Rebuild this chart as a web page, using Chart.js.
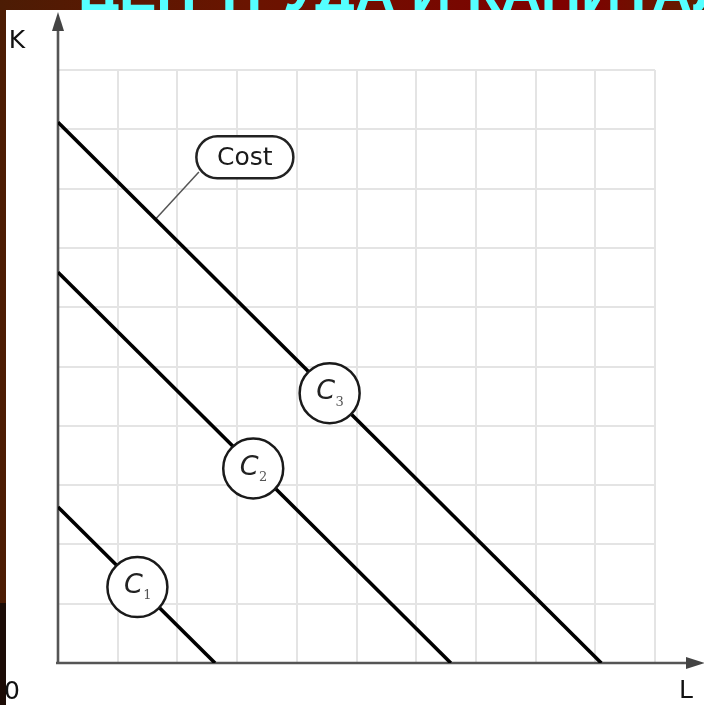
<!DOCTYPE html>
<html>
<head>
<meta charset="utf-8">
<script src="https://cdn.jsdelivr.net/npm/chart.js@4.4.1/dist/chart.umd.min.js"></script>
<style>
html,body{margin:0;padding:0;background:#5a1e04;}
#wrap{position:relative;width:704px;height:705px;}
canvas{display:block;}
</style>
</head>
<body>
<div id="wrap"><canvas id="c" width="704" height="705"></canvas></div>
<script>
// ---- data ----
const categories = ['C1', 'C2', 'C3'];
const subscripts = ['1', '2', '3'];
const kIntercepts = [2.63, 6.59, 9.12];   // value of K where each isocost meets the K axis
const lIntercepts = [2.63, 6.58, 9.10];   // value of L where each isocost meets the L axis
const labelL = [1.33, 3.27, 4.55];        // label circle positions on each line
const labelK = [1.28, 3.28, 4.55];
const costLabel = { text: 'Cost', l: 3.13, k: 8.53 };
const costLeader = [{ x: 2.36, y: 8.28 }, { x: 1.64, y: 7.49 }];
const xTicks = [0,1,2,3,4,5,6,7,8,9,10];
const yTicks = [0,1,2,3,4,5,6,7,8,9,10];
const titleText = 'ЦЕН ТРУДА И КАПИТАЛА';
const axisLabels = { y: 'K', x: 'L', origin: '0' };

const lineDatasets = categories.map((c, i) => ({
  label: c,
  data: [{ x: 0, y: kIntercepts[i] }, { x: lIntercepts[i], y: 0 }],
  showLine: true,
  borderColor: '#000',
  borderWidth: 3.6,
  pointRadius: 0,
  pointHoverRadius: 0,
  fill: false
}));

const circleDataset = {
  label: 'labels',
  data: categories.map((c, i) => ({ x: labelL[i], y: labelK[i] })),
  showLine: false,
  pointRadius: 30,
  pointHoverRadius: 30,
  pointBackgroundColor: '#fff',
  pointBorderColor: '#1a1a1a',
  pointBorderWidth: 2.5
};

const backgroundPlugin = {
  id: 'bg',
  beforeDraw(chart) {
    const ctx = chart.ctx, W = chart.width, H = chart.height;
    ctx.save();
    const g = ctx.createLinearGradient(0, 0, W, 0);
    g.addColorStop(0, '#4c1c04');
    g.addColorStop(0.35, '#6a1400');
    g.addColorStop(0.82, '#800000');
    g.addColorStop(1, '#5e2000');
    ctx.fillStyle = g;
    ctx.fillRect(0, 0, W, H);
    ctx.fillStyle = '#1c0c06';
    ctx.fillRect(0, 603, 8, H - 603);
    // cyan title, mostly hidden behind the white panel
    ctx.fillStyle = '#55ffff';
    ctx.font = 'bold 56px "Liberation Sans", Arial, sans-serif';
    ctx.textBaseline = 'alphabetic';
    ctx.textAlign = 'left';
    ctx.fillText(titleText, 78, 11);
    // white panel
    ctx.fillStyle = '#ffffff';
    ctx.fillRect(6, 10, W - 6, H - 10);
    ctx.restore();
  }
};

const overlayPlugin = {
  id: 'overlay',
  beforeDatasetsDraw(chart) {
    const ctx = chart.ctx, xs = chart.scales.x, ys = chart.scales.y;
    const x0 = xs.getPixelForValue(0), y0 = ys.getPixelForValue(0);
    ctx.save();
    ctx.strokeStyle = '#555';
    ctx.fillStyle = '#444';
    ctx.lineWidth = 2.6;
    // y axis
    ctx.beginPath(); ctx.moveTo(x0, y0 + 1); ctx.lineTo(x0, 26); ctx.stroke();
    ctx.beginPath(); ctx.moveTo(x0, 12); ctx.lineTo(x0 - 6, 31); ctx.lineTo(x0 + 6, 31); ctx.closePath(); ctx.fill();
    // x axis
    ctx.beginPath(); ctx.moveTo(x0 - 2, y0); ctx.lineTo(690, y0); ctx.stroke();
    ctx.beginPath(); ctx.moveTo(705, y0); ctx.lineTo(686, y0 - 6); ctx.lineTo(686, y0 + 6); ctx.closePath(); ctx.fill();
    // leader line to Cost label
    ctx.strokeStyle = '#555';
    ctx.lineWidth = 1.5;
    ctx.beginPath();
    ctx.moveTo(xs.getPixelForValue(costLeader[0].x), ys.getPixelForValue(costLeader[0].y));
    ctx.lineTo(xs.getPixelForValue(costLeader[1].x), ys.getPixelForValue(costLeader[1].y));
    ctx.stroke();
    // axis labels
    ctx.fillStyle = '#111';
    ctx.font = '25px "DejaVu Sans", sans-serif';
    ctx.textAlign = 'center';
    ctx.textBaseline = 'middle';
    ctx.fillText(axisLabels.y, 17, 41);
    ctx.fillText(axisLabels.origin, 12, 692);
    ctx.fillText(axisLabels.x, 686, 691);
    ctx.restore();
  },
  afterDatasetsDraw(chart) {
    const ctx = chart.ctx, xs = chart.scales.x, ys = chart.scales.y;
    ctx.save();
    // circle labels text
    categories.forEach((c, i) => {
      const px = xs.getPixelForValue(labelL[i]), py = ys.getPixelForValue(labelK[i]);
      ctx.fillStyle = '#222';
      ctx.font = 'italic 27px "DejaVu Sans", sans-serif';
      ctx.textAlign = 'center';
      ctx.textBaseline = 'middle';
      ctx.fillText('C', px - 4, py - 1);
      ctx.fillStyle = '#555';
      ctx.font = '13px "DejaVu Serif", serif';
      ctx.fillText(subscripts[i], px + 10, py + 9);
    });
    // Cost box
    const cx = xs.getPixelForValue(costLabel.l), cy = ys.getPixelForValue(costLabel.k);
    const w = 97, h = 42, r = 21;
    ctx.beginPath();
    ctx.roundRect(cx - w / 2, cy - h / 2, w, h, r);
    ctx.fillStyle = '#fff';
    ctx.fill();
    ctx.strokeStyle = '#222';
    ctx.lineWidth = 2.5;
    ctx.stroke();
    ctx.fillStyle = '#1a1a1a';
    ctx.font = '25px "DejaVu Sans", sans-serif';
    ctx.textAlign = 'center';
    ctx.textBaseline = 'middle';
    ctx.fillText(costLabel.text, cx, cy + 1);
    ctx.restore();
  }
};

new Chart(document.getElementById('c'), {
  type: 'scatter',
  data: { datasets: [circleDataset, ...lineDatasets] },
  options: {
    responsive: false,
    animation: false,
    devicePixelRatio: 1,
    layout: { padding: { left: 58, right: 49, top: 70, bottom: 42 } },
    plugins: { legend: { display: false }, tooltip: { enabled: false } },
    events: [],
    scales: {
      x: {
        type: 'linear', min: 0, max: 10,
        afterBuildTicks(s) { s.ticks = xTicks.map(v => ({ value: v })); },
        ticks: { display: false },
        grid: { color: '#e4e4e4', lineWidth: 2, drawTicks: false },
        border: { display: false }
      },
      y: {
        type: 'linear', min: 0, max: 10,
        afterBuildTicks(s) { s.ticks = yTicks.map(v => ({ value: v })); },
        ticks: { display: false },
        grid: { color: '#e4e4e4', lineWidth: 2, drawTicks: false },
        border: { display: false }
      }
    }
  },
  plugins: [backgroundPlugin, overlayPlugin]
});
</script>
</body>
</html>
